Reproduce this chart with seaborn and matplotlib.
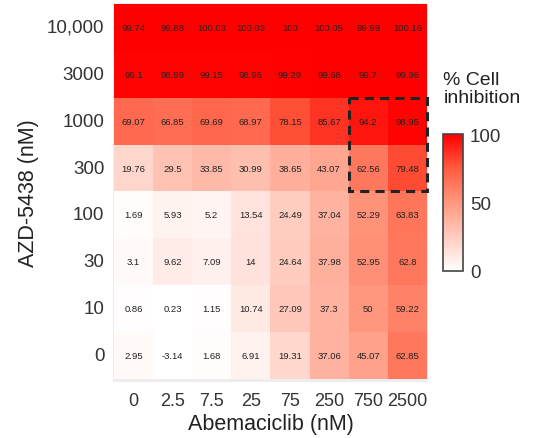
import matplotlib
matplotlib.use("Agg")
import matplotlib.pyplot as plt
import numpy as np
import pandas as pd
import seaborn as sns
from matplotlib.colors import LinearSegmentedColormap
from matplotlib.patches import Rectangle

# AZD-5438 doses, top row first
azd_doses = ["10,000", "3000", "1000", "300", "100", "30", "10", "0"]
abema_doses = ["0", "2.5", "7.5", "25", "75", "250", "750", "2500"]

row_10000 = [99.74, 99.88, 100.03, 100.03, 100, 100.05, 99.99, 100.16]
row_3000 = [99.1, 98.99, 99.15, 98.96, 99.29, 99.68, 99.7, 99.96]
row_1000 = [69.07, 66.85, 69.69, 68.97, 78.15, 85.67, 94.2, 98.95]
row_300 = [19.76, 29.5, 33.85, 30.99, 38.65, 43.07, 62.56, 79.48]
row_100 = [1.69, 5.93, 5.2, 13.54, 24.49, 37.04, 52.29, 63.83]
row_30 = [3.1, 9.62, 7.09, 14, 24.64, 37.98, 52.95, 62.8]
row_10 = [0.86, 0.23, 1.15, 10.74, 27.09, 37.3, 50, 59.22]
row_0 = [2.95, -3.14, 1.68, 6.91, 19.31, 37.06, 45.07, 62.85]

inhibition = pd.DataFrame(
    [row_10000, row_3000, row_1000, row_300, row_100, row_30, row_10, row_0],
    index=azd_doses, columns=abema_doses,
)
labels = inhibition.map(lambda v: f"{v:g}")

sns.set_style("white")
plt.rcParams["font.family"] = ["Liberation Sans", "DejaVu Sans"]

# white -> red, roughly like a Lab gradient
cmap = LinearSegmentedColormap.from_list(
    "inhib", ["#FFFFFF", "#FFCBBE", "#FF977E", "#FF5B40", "#FF0000"])

fig = plt.figure(figsize=(5.42, 4.39), dpi=100)
ax = fig.add_axes([0.208, 0.128, 0.582, 0.864])
cax = fig.add_axes([0.818, 0.381, 0.036, 0.311])

sns.heatmap(
    inhibition, ax=ax, cbar_ax=cax, cmap=cmap, vmin=0, vmax=100,
    annot=labels, fmt="", annot_kws={"fontsize": 6.8, "color": "#222222"},
    linewidths=0,
)

ax.set_facecolor("#EDEDED")
ax.set_xlim(-0.03, 8.03)
ax.set_ylim(8.06, -0.03)
for s in ax.spines.values():
    s.set_visible(False)

ax.tick_params(axis="both", length=3, color="#999999",
               labelcolor="#333333", width=0.8, pad=3)
ax.tick_params(axis="y", labelsize=13.5)
ax.tick_params(axis="x", labelsize=13, pad=4)
ax.set_yticklabels(azd_doses, rotation=0)
ax.set_xticklabels(abema_doses, rotation=0)
ax.set_xlabel("Abemaciclib (nM)", fontsize=15.5, color="#222222", labelpad=3)
ax.set_ylabel("AZD-5438 (nM)", fontsize=15.5, color="#222222", labelpad=6)

# synergy region
ax.add_patch(Rectangle((6, 2), 2, 2, fill=False, edgecolor="#222222",
                       linestyle=(0, (3, 2)), linewidth=2.2, clip_on=False))

cbar = ax.collections[0].colorbar
cbar.set_ticks([0, 50, 100])
cbar.ax.tick_params(length=0, labelsize=13.5, labelcolor="#333333", pad=5)
cbar.outline.set_edgecolor("#444444")
cbar.outline.set_linewidth(1.2)

fig.text(0.818, 0.836, "% Cell\ninhibition", fontsize=14, color="#222222",
         ha="left", va="top", linespacing=1.1)

fig.savefig("out.png", dpi=100)
